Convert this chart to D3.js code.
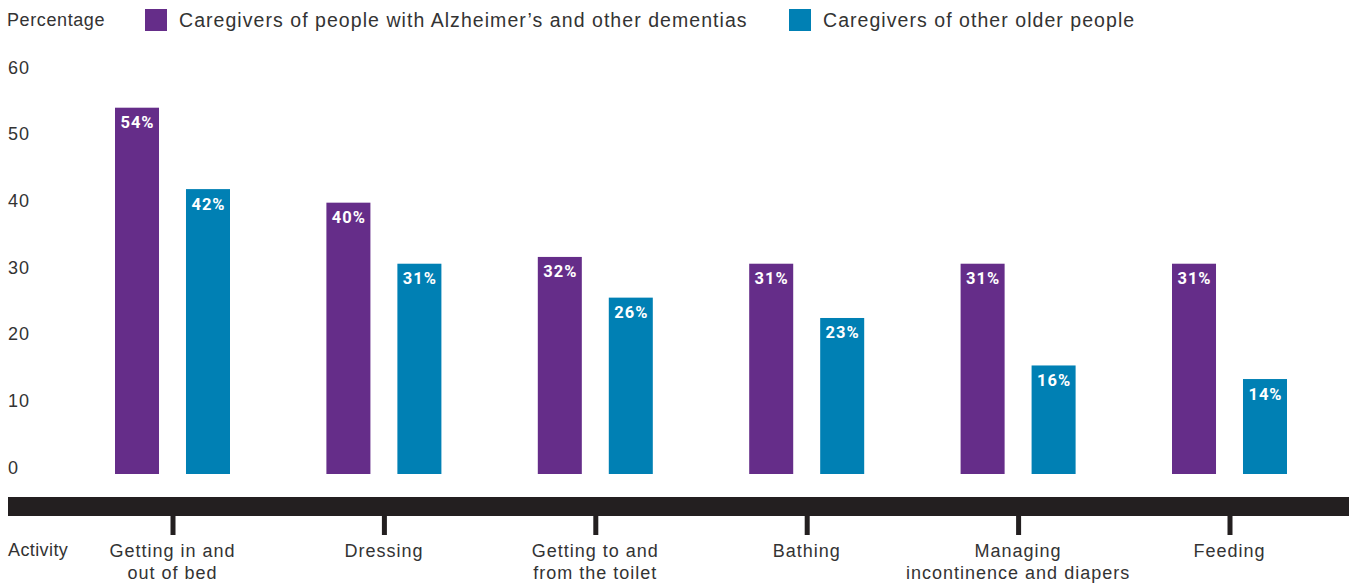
<!DOCTYPE html>
<html><head><meta charset="utf-8">
<script src="https://cdn.jsdelivr.net/npm/d3@7"></script>
<style>
body{margin:0;background:#fff;}
svg text{font-family:"Liberation Sans",Arial,sans-serif;}
</style></head>
<body><svg id="c" width="1349" height="585"></svg>
<script>
const categories = [["Getting in and","out of bed"],["Dressing"],["Getting to and","from the toilet"],["Bathing"],["Managing","incontinence and diapers"],["Feeding"]];
const seriesNames = ["Caregivers of people with Alzheimer\u2019s and other dementias","Caregivers of other older people"];
const dementiaValues = [54,40,32,31,31,31];
const otherValues = [42,31,26,23,16,14];
const yTicks = [0,10,20,30,40,50,60];
const colors = ["#652d89","#0080b4"];

const svg = d3.select("#c");
const catKeys = categories.map(c=>c.join(" "));
const x0 = d3.scaleBand().domain(catKeys).range([115,1287]).paddingInner(0.456).paddingOuter(0);
const x1 = d3.scaleBand().domain([0,1]).range([0,x0.bandwidth()]).paddingInner(0.38).paddingOuter(0);
const y = d3.scaleLinear().domain([0,60]).range([474,67]);
const yLab = d3.scaleLinear().domain([0,60]).range([467,67]);

// y axis labels
const yAxis = d3.axisLeft(yLab).tickValues(yTicks).tickSize(0).tickPadding(0);
const ga = svg.append("g").attr("transform","translate(8,0)").call(yAxis);
ga.select(".domain").remove();
ga.selectAll("text").attr("text-anchor","start").attr("x",0).attr("dy","0.35em")
  .style("font-size","18px").style("letter-spacing","1px").style("font-family","'Liberation Sans',Arial,sans-serif").attr("fill","#333");

// bars
const data = catKeys.map((k,i)=>({k, vals:[dementiaValues[i], otherValues[i]]}));
const g = svg.append("g");
const grp = g.selectAll("g").data(data).join("g").attr("transform",d=>`translate(${x0(d.k)},0)`);
grp.selectAll("rect").data(d=>d.vals.map((v,j)=>({v,j}))).join("rect")
  .attr("x",d=>x1(d.j)).attr("width",x1.bandwidth())
  .attr("y",d=>y(d.v)).attr("height",d=>y(0)-y(d.v)).attr("fill",d=>colors[d.j]);
grp.selectAll("text").data(d=>d.vals.map((v,j)=>({v,j}))).join("text")
  .attr("x",d=>x1(d.j)+x1.bandwidth()/2+0.5).attr("y",d=>y(d.v)+20.5)
  .attr("text-anchor","middle").attr("fill","#fff")
  .style("font-family","Roboto,sans-serif").style("font-weight","700").style("font-size","16.5px").style("letter-spacing","1px")
  .text(d=>d.v+"%");

// x axis band
svg.append("rect").attr("x",8).attr("y",497).attr("width",1341).attr("height",19).attr("fill","#231f20");
const ticks = svg.append("g");
ticks.selectAll("rect").data(catKeys).join("rect")
  .attr("x",d=>x0(d)+x0.bandwidth()/2-2).attr("y",516).attr("width",5).attr("height",19).attr("fill","#231f20");
const lab = svg.append("g").selectAll("text").data(categories).join("text")
  .attr("text-anchor","middle").attr("fill","#333").style("font-size","18px").style("letter-spacing","1px")
  .attr("transform",(d,i)=>`translate(${x0(catKeys[i])+x0.bandwidth()/2},557)`);
lab.selectAll("tspan").data(d=>d).join("tspan").attr("x",0).attr("dy",(d,i)=>i?22:0).text(d=>d);
svg.append("text").attr("x",8).attr("y",556).attr("fill","#333").style("font-size","18px").style("letter-spacing","0.4px").text("Activity");

// title + legend
svg.append("text").attr("x",7).attr("y",26).attr("fill","#333").style("font-size","18px").style("letter-spacing","0.6px").text("Percentage");
const legX = [145,789];
const leg = svg.append("g").selectAll("g").data(seriesNames).join("g").attr("transform",(d,i)=>`translate(${legX[i]},9)`);
leg.append("rect").attr("width",22).attr("height",22).attr("fill",(d,i)=>colors[i]);
leg.append("text").attr("x",34).attr("y",18).attr("fill","#333").style("font-size","19.5px").style("letter-spacing","1.05px").text(d=>d);
</script></body></html>
